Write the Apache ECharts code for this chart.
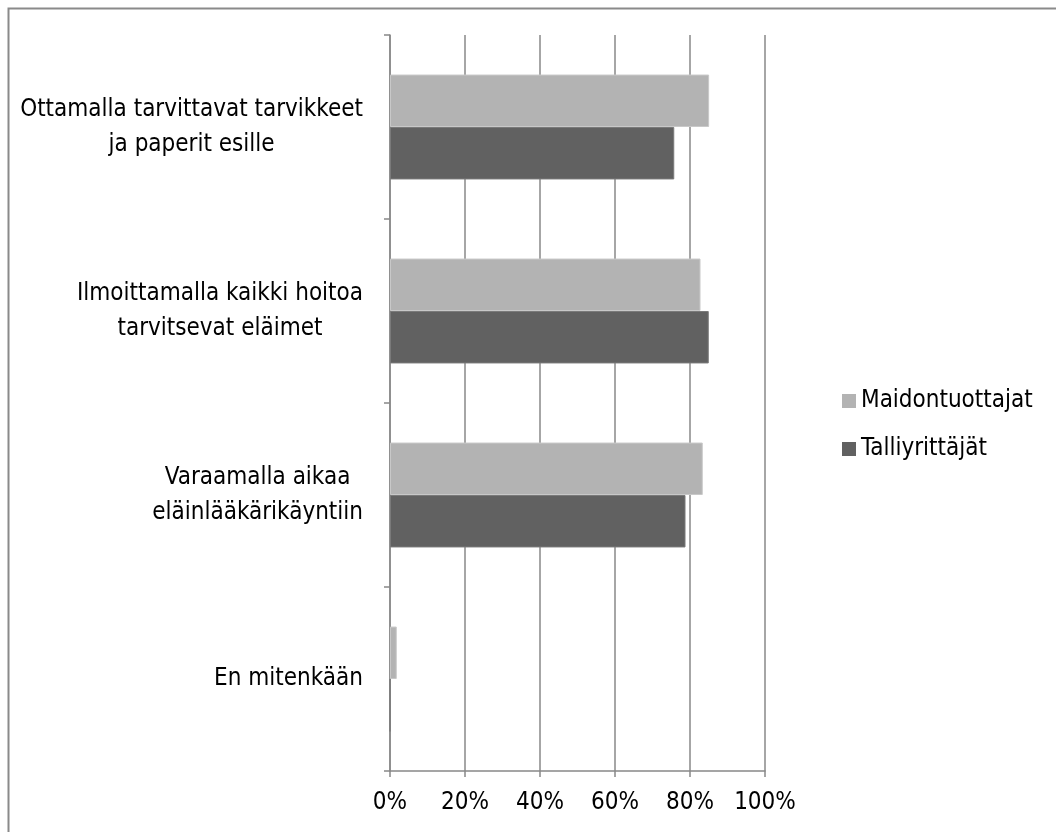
<!DOCTYPE html>
<html>
<head>
<meta charset="utf-8">
<script src="https://cdn.jsdelivr.net/npm/echarts@6/dist/echarts.min.js"></script>
<style>html,body{margin:0;padding:0;background:#fff;}#c{width:1056px;height:832px;}</style>
</head>
<body>
<div id="c"></div>
<script>
const categories = [
  'Ottamalla tarvittavat tarvikkeet\nja paperit esille',
  'Ilmoittamalla kaikki hoitoa\ntarvitsevat eläimet',
  'Varaamalla aikaa\neläinlääkärikäyntiin',
  'En mitenkään'
];
const seriesNames = ['Maidontuottajat', 'Talliyrittäjät'];
const maidontuottajat = [85.1, 82.8, 83.4, 1.8];
const talliyrittajat = [75.8, 85.0, 78.8, 0];
const xTicks = [0, 20, 40, 60, 80, 100];

const FONT = '"Liberation Sans Narrow", "DejaVu Sans Condensed", sans-serif';
const AX = '#888888';

const chart = echarts.init(document.getElementById('c'), null, {renderer: 'canvas'});
chart.setOption({
  animation: false,
  backgroundColor: '#ffffff',
  textStyle: {fontFamily: FONT},
  graphic: [{
    type: 'rect', left: 6, top: 6,
    shape: {x: 0, y: 0, width: 1060, height: 840},
    style: {fill: 'none', stroke: '#8a8a8a', lineWidth: 2},
    silent: true
  }],
  grid: {left: 390, right: 291, top: 35, bottom: 61, containLabel: false},
  legend: {
    orient: 'vertical', left: 837, top: 384,
    data: seriesNames,
    icon: 'rect', itemWidth: 14, itemHeight: 14, itemGap: 24,
    itemStyle: {borderWidth: 0},
    textStyle: {fontFamily: FONT, fontSize: 24, color: '#000', lineHeight: 24}
  },
  xAxis: {
    type: 'value', min: xTicks[0], max: xTicks[xTicks.length - 1], interval: 20,
    axisLine: {show: true, lineStyle: {color: AX, width: 1.5}},
    axisTick: {show: true, length: 6, lineStyle: {color: AX, width: 1.5}},
    splitLine: {show: true, lineStyle: {color: AX, width: 1.5}},
    axisLabel: {formatter: '{value}%', margin: 20, fontFamily: FONT, fontSize: 24, color: '#000'}
  },
  yAxis: {
    type: 'category', data: categories, inverse: true,
    axisLine: {show: true, lineStyle: {color: AX, width: 1.5}},
    axisTick: {show: true, length: 6, lineStyle: {color: AX, width: 1.5}},
    axisLabel: {
      margin: 27, fontFamily: FONT, fontSize: 24, color: '#000', lineHeight: 35,
      formatter: function (v) { return v.split('\n').map(s => '{c|' + s + '}').join('\n'); },
      rich: {c: {align: 'center', fontFamily: FONT, fontSize: 24, color: '#000', lineHeight: 35}}
    }
  },
  series: [
    {name: seriesNames[0], type: 'bar', data: maidontuottajat, barGap: '0%', barCategoryGap: '43%',
     itemStyle: {color: '#b3b3b3', borderColor: '#c8c8c8', borderWidth: 1}},
    {name: seriesNames[1], type: 'bar', data: talliyrittajat, barGap: '0%', barCategoryGap: '43%',
     itemStyle: {color: '#616161', borderColor: '#7a7a7a', borderWidth: 1}}
  ]
});
</script>
</body>
</html>
